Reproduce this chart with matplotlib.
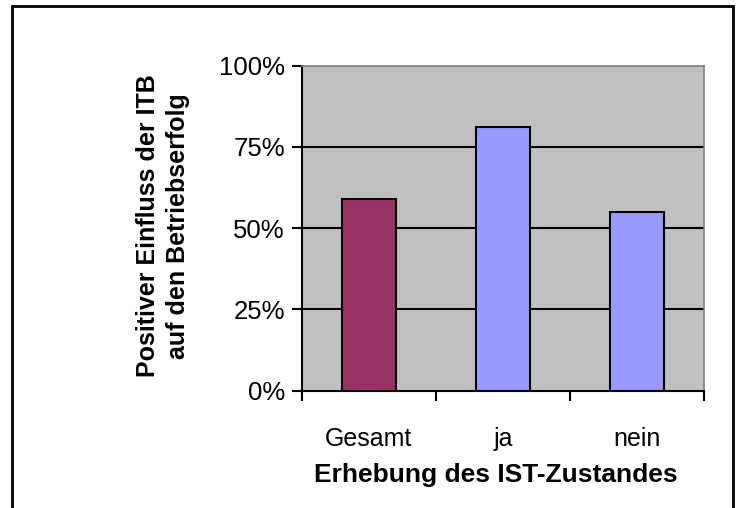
import matplotlib
matplotlib.use("Agg")
import matplotlib.pyplot as plt
from matplotlib.patches import Rectangle

categories = ["Gesamt", "ja", "nein"]
values = [59, 81, 55]
colors = ["#993366", "#9999ff", "#9999ff"]
yticks = [0, 25, 50, 75, 100]
ytick_labels = ["0%", "25%", "50%", "75%", "100%"]

font = ["Liberation Sans", "DejaVu Sans"]
W, H = 736, 508

fig = plt.figure(figsize=(W / 100, H / 100), dpi=100)
# outer chart border (bottom edge is cut off in the reference)
fig.patches.append(Rectangle((11.5 / W, -0.02), 721 / W, 1 - 6.5 / H + 0.02,
                             transform=fig.transFigure, fill=False,
                             edgecolor="black", linewidth=2))

ax = fig.add_axes([301.7 / W, 1 - 390.7 / H, 402.3 / W, 325 / H])
ax.set_facecolor("#c0c0c0")
x = list(range(len(categories)))
ax.bar(x, values, width=0.4, color=colors, edgecolor="black", linewidth=1.5, zorder=3)
for v in yticks[1:-1]:
    ax.axhline(v, color="black", linewidth=1.5, zorder=1)

ax.set_xlim(-0.5, 2.5)
ax.set_ylim(0, 100)
ax.set_yticks(yticks)
ax.set_yticklabels(ytick_labels, family=font, fontsize=18.5)
ax.set_xticks([-0.5, 0.5, 1.5, 2.5])
ax.set_xticklabels([])
ax.set_xticks(x, minor=True)
ax.set_xticklabels(categories, minor=True, family=font, fontsize=18)
ax.tick_params(axis="x", which="minor", length=0, pad=26)
ax.tick_params(axis="x", which="major", length=7, width=1.5, direction="out")
ax.tick_params(axis="y", length=7, width=1.5, direction="out", pad=5)

for s in ["left", "bottom"]:
    ax.spines[s].set_linewidth(1.5)
    ax.spines[s].set_color("black")
for s in ["top", "right"]:
    ax.spines[s].set_linewidth(1.2)
    ax.spines[s].set_color("#808080")

fig.text(496 / W, 1 - 482 / H, "Erhebung des IST-Zustandes", family=font,
         fontsize=19, fontweight="bold", ha="center", va="baseline")
fig.text(163 / W, 1 - 226 / H, "Positiver Einfluss der ITB\nauf den Betriebserfolg",
         family=font, fontsize=18, fontweight="bold", rotation=90,
         ha="center", va="center", multialignment="center", linespacing=1.35)

fig.savefig("out.png", dpi=100)
